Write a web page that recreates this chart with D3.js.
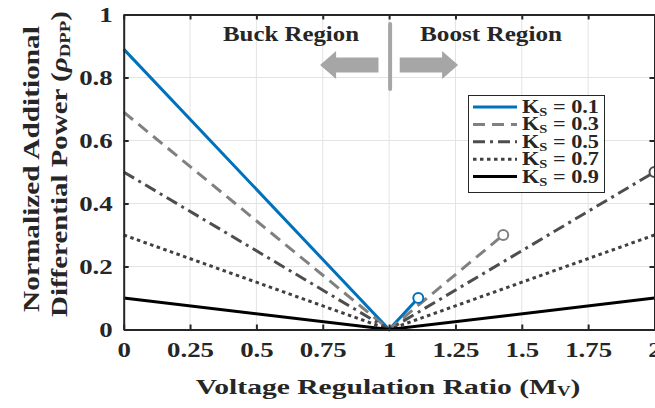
<!DOCTYPE html>
<html>
<head>
<meta charset="utf-8">
<script src="https://cdn.jsdelivr.net/npm/d3@7"></script>
<style>
  body { margin: 0; background: #fff; }
  text { font-family: "Liberation Serif", "DejaVu Serif", serif; font-weight: bold; fill: #262626; }
</style>
</head>
<body>
<script>
const width = 655;
const height = 408;
const margin = { top: 14.5, right: 0.5, bottom: 78.5, left: 123.7 };

// data
const ksLabels = ["0.1", "0.3", "0.5", "0.7", "0.9"];
const seriesM = [
    [0, 1, 1.11],
    [0, 1, 1.43],
    [0, 1, 2],
    [0, 1, 2],
    [0, 1, 2]
];
const seriesRho = [
    [0.89, 0, 0.1],
    [0.69, 0, 0.3],
    [0.5, 0, 0.5],
    [0.3, 0, 0.3],
    [0.1, 0, 0.1]
];
const hasMarker = [true, true, true, false, false];
const lineColors = ["#0072BD", "#808080", "#4d4d4d", "#404040", "#000000"];
const lineDash = [null, "12,7", "12,5,3,5", "3.5,3.5", null];
const xTicks = [0, 0.25, 0.5, 0.75, 1, 1.25, 1.5, 1.75, 2];
const yTicks = [0, 0.2, 0.4, 0.6, 0.8, 1];

const svg = d3.select("body")
    .append("svg")
    .attr("width", width)
    .attr("height", height);

const x = d3.scaleLinear().domain([0, 2]).range([margin.left, width - margin.right]);
const y = d3.scaleLinear().domain([0, 1]).range([height - margin.bottom, margin.top]);

// stretch a text horizontally (the original uses a wide serif face)
function widen(sel, factor) {
    sel.each(function () {
        const w = this.getComputedTextLength();
        d3.select(this).attr("textLength", w * factor).attr("lengthAdjust", "spacingAndGlyphs");
    });
}
// scale a group so its text gets the wanted width
function fitGroup(g, target) {
    const w = g.node().getBBox().width;
    g.select(".inner").attr("transform", `scale(${target / w},1)`);
}

// grid
svg.append("g")
    .selectAll("line")
    .data(xTicks)
    .join("line")
    .attr("x1", d => x(d)).attr("x2", d => x(d))
    .attr("y1", y(0)).attr("y2", y(1))
    .attr("stroke", "#e3e3e3").attr("stroke-width", 1);
svg.append("g")
    .selectAll("line")
    .data(yTicks)
    .join("line")
    .attr("y1", d => y(d)).attr("y2", d => y(d))
    .attr("x1", x(0)).attr("x2", x(2))
    .attr("stroke", "#e3e3e3").attr("stroke-width", 1);

// region annotation: labels, divider and arrows
const arrowColor = "#a6a6a6";
svg.append("text")
    .attr("x", 291).attr("y", 41)
    .attr("text-anchor", "middle")
    .attr("font-size", 22)
    .attr("textLength", 136).attr("lengthAdjust", "spacingAndGlyphs")
    .text("Buck Region");
svg.append("text")
    .attr("x", 491).attr("y", 41)
    .attr("text-anchor", "middle")
    .attr("font-size", 22)
    .attr("textLength", 142).attr("lengthAdjust", "spacingAndGlyphs")
    .text("Boost Region");
svg.append("line")
    .attr("x1", x(1) + 1).attr("x2", x(1) + 1)
    .attr("y1", 24).attr("y2", 89)
    .attr("stroke", arrowColor).attr("stroke-width", 4).attr("stroke-linecap", "round");

const arrowY = y(0.84);
function arrowPath(x0, x1, headLen) {
    const dir = Math.sign(x1 - x0);
    const hb = x1 - dir * headLen;
    return `M${x0},${arrowY - 7.5}L${hb},${arrowY - 7.5}L${hb},${arrowY - 14}L${x1},${arrowY}` +
        `L${hb},${arrowY + 14}L${hb},${arrowY + 7.5}L${x0},${arrowY + 7.5}Z`;
}
svg.append("path").attr("d", arrowPath(x(0.96), x(0.74), 16)).attr("fill", arrowColor);
svg.append("path").attr("d", arrowPath(x(1.04), x(1.26), 16)).attr("fill", arrowColor);

// series
const line = d3.line().x(d => x(d[0])).y(d => y(d[1]));
const plot = svg.append("g");
seriesM.forEach((ms, i) => {
    const pts = ms.map((m, j) => [m, seriesRho[i][j]]);
    plot.append("path")
        .datum(pts)
        .attr("d", line)
        .attr("fill", "none")
        .attr("stroke", lineColors[i])
        .attr("stroke-width", 3)
        .attr("stroke-dasharray", lineDash[i]);
});
// open circle markers at the end points, drawn on top
seriesM.forEach((ms, i) => {
    if (!hasMarker[i]) return;
    const last = ms.length - 1;
    svg.append("circle")
        .attr("cx", x(ms[last]))
        .attr("cy", y(seriesRho[i][last]))
        .attr("r", 5)
        .attr("fill", "#fff")
        .attr("stroke", lineColors[i])
        .attr("stroke-width", 2);
});

// axes box with inward ticks
const axisColor = "#262626";
const axB = svg.append("g").attr("transform", `translate(0,${y(0)})`)
    .call(d3.axisBottom(x).tickValues(xTicks).tickSizeInner(-5).tickSizeOuter(0).tickPadding(12)
        .tickFormat(d => String(d)));
const axT = svg.append("g").attr("transform", `translate(0,${y(1)})`)
    .call(d3.axisTop(x).tickValues(xTicks).tickSizeInner(-5).tickSizeOuter(0).tickFormat(""));
const axL = svg.append("g").attr("transform", `translate(${x(0)},0)`)
    .call(d3.axisLeft(y).tickValues(yTicks).tickSizeInner(-5).tickSizeOuter(0).tickPadding(11)
        .tickFormat(d => String(d)));
const axR = svg.append("g").attr("transform", `translate(${x(2)},0)`)
    .call(d3.axisRight(y).tickValues(yTicks).tickSizeInner(-5).tickSizeOuter(0).tickFormat(""));
[axB, axT, axL, axR].forEach(a => {
    a.select(".domain").attr("stroke", axisColor).attr("stroke-width", 2);
    a.selectAll(".tick line").attr("stroke", axisColor).attr("stroke-width", 2);
    a.selectAll(".tick text")
        .attr("font-family", "Liberation Serif")
        .attr("font-weight", "bold")
        .attr("font-size", 22)
        .attr("fill", axisColor);
});
axB.selectAll(".tick text").attr("dy", "0.71em");
axL.selectAll(".tick text").attr("dy", "0.34em");
widen(axB.selectAll(".tick text"), 1.22);
widen(axL.selectAll(".tick text"), 1.22);

// legend
const legend = svg.append("g");
legend.append("rect")
    .attr("x", 468.5).attr("y", 95.5)
    .attr("width", 136).attr("height", 97)
    .attr("fill", "#fff")
    .attr("stroke", "#262626").attr("stroke-width", 1);
ksLabels.forEach((k, i) => {
    const ry = 107 + i * 17.4;
    legend.append("line")
        .attr("x1", 473).attr("x2", 517)
        .attr("y1", ry).attr("y2", ry)
        .attr("stroke", lineColors[i])
        .attr("stroke-width", 3)
        .attr("stroke-dasharray", lineDash[i]);
    const g = legend.append("g").attr("transform", `translate(522,${ry + 6})`);
    const t = g.append("g").attr("class", "inner").append("text").attr("font-size", 18.5);
    t.append("tspan").text("K");
    t.append("tspan").attr("font-size", 12).attr("dy", 3).text("S");
    t.append("tspan").attr("dy", -3).text(" = " + k);
    fitGroup(g, 77);
});

// axis titles
const xg = svg.append("g").attr("transform", "translate(388,394)");
const xl = xg.append("g").attr("class", "inner").append("text")
    .attr("text-anchor", "middle")
    .attr("font-size", 22);
xl.append("tspan").text("Voltage Regulation Ratio (M");
xl.append("tspan").attr("font-size", 14).attr("dy", 2).text("V");
xl.append("tspan").attr("dy", -2).text(")");
fitGroup(xg, 385);

const yg1 = svg.append("g").attr("transform", "translate(39,169) rotate(-90)");
yg1.append("g").attr("class", "inner").append("text")
    .attr("text-anchor", "middle")
    .attr("font-size", 23)
    .text("Normalized Additional");
fitGroup(yg1, 286);

const yg2 = svg.append("g").attr("transform", "translate(67,164) rotate(-90)");
const yl2 = yg2.append("g").attr("class", "inner").append("text")
    .attr("text-anchor", "middle")
    .attr("font-size", 23);
yl2.append("tspan").text("Differential Power (");
yl2.append("tspan").attr("font-style", "italic").text("ρ");
yl2.append("tspan").attr("font-size", 15).attr("dy", 3).text("DPP");
yl2.append("tspan").attr("dy", -3).text(")");
fitGroup(yg2, 306);
</script>
</body>
</html>
